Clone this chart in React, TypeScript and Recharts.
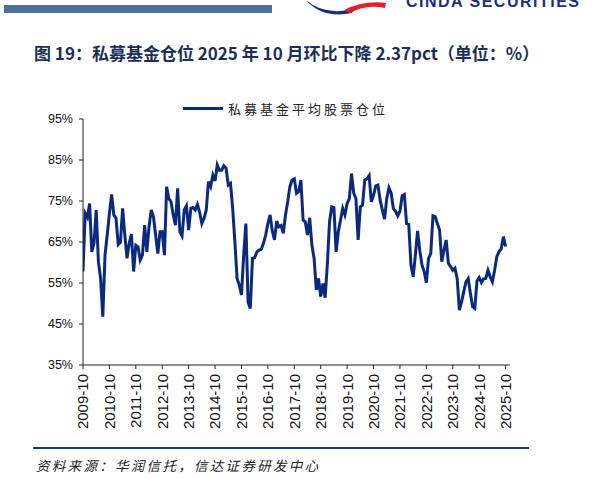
import { LineChart, Line, XAxis, YAxis } from "recharts";

// 私募基金平均股票仓位（%），2009-10 起按月
const positionValues = [
  57.8, 72.0, 71.0, 74.4, 62.6, 64.7, 72.8, 60.2, 56.1, 46.8, 61.8, 66.7,
  72.0, 76.6, 71.6, 70.8, 64.4, 64.9, 73.2, 66.7, 61.0, 64.7, 66.9, 57.8,
  64.2, 63.8, 60.6, 61.8, 69.1, 62.6, 68.7, 72.8, 71.2, 66.7, 62.2, 67.5,
  67.5, 61.8, 78.5, 75.6, 74.8, 71.6, 69.1, 78.1, 67.5, 66.5, 72.8, 73.8,
  67.9, 73.2, 73.4, 72.8, 74.2, 72.2, 69.5, 70.8, 72.8, 79.7, 78.5, 81.3,
  79.9, 83.8, 82.5, 82.5, 83.6, 83.0, 78.9, 79.3, 73.2, 65.1, 56.1, 54.5,
  52.1, 61.8, 69.5, 50.4, 48.8, 61.0, 61.2, 62.6, 63.0, 63.2, 64.7, 66.7,
  69.5, 71.6, 67.7, 65.5, 70.1, 68.7, 69.0, 67.1, 71.6, 74.8, 78.5, 80.1,
  80.4, 76.9, 77.3, 80.1, 70.3, 69.9, 66.7, 70.9, 64.2, 61.0, 53.3, 56.1,
  51.7, 54.9, 51.4, 59.4, 69.9, 73.6, 73.4, 62.6, 67.5, 70.3, 73.2, 71.6,
  74.4, 75.6, 81.7, 76.9, 75.6, 65.5, 73.6, 74.0, 80.1, 80.4, 81.2, 74.8,
  76.4, 78.7, 78.9, 75.2, 72.8, 70.6, 75.6, 78.2, 76.9, 73.2, 72.5, 71.4,
  72.5, 76.3, 76.6, 69.5, 69.3, 59.4, 56.5, 61.8, 67.7, 63.0, 59.4, 57.8,
  55.1, 61.0, 62.2, 71.4, 71.2, 69.5, 67.9, 60.2, 63.0, 65.5, 59.8, 59.0,
  58.1, 58.6, 56.1, 48.4, 50.4, 52.9, 55.3, 56.1, 52.5, 49.2, 48.8, 55.5,
  56.3, 55.1, 56.0, 56.1, 58.1, 56.5, 55.3, 58.1, 61.4, 62.6, 63.3, 66.3,
  63.9,
];

const tickLabels = [
  "2009-10", "2010-10", "2011-10", "2012-10", "2013-10", "2014-10",
  "2015-10", "2016-10", "2017-10", "2018-10", "2019-10", "2020-10",
  "2021-10", "2022-10", "2023-10", "2024-10", "2025-10",
];

const yTicks = [35, 45, 55, 65, 75, 85, 95];

const data = positionValues.map((value, idx) => ({ idx, value }));
const xTicks = tickLabels.map((_, i) => i * 12);

const NAVY = "#0b2a7d";

const XTick = ({ x, y, payload }: any) => {
  const label = tickLabels[Math.round(payload.value / 12)];
  return (
    <text
      x={x}
      y={y}
      transform={`rotate(-90, ${x}, ${y})`}
      textAnchor="end"
      dy="0.36em"
      fontSize={15}
      fill="#111"
      fontFamily="Liberation Sans, Arial, sans-serif"
    >
      {label}
    </text>
  );
};

const App = () => {
  return (
    <div
      style={{
        position: "absolute",
        left: 0,
        top: 0,
        width: 598,
        height: 478,
        background: "#fff",
        overflow: "hidden",
        fontFamily: "Liberation Sans, Arial, sans-serif",
      }}
    >
      {/* 顶部色条和标志 */}
      <div style={{ position: "absolute", left: 4, top: 5, width: 268, height: 8, background: "#4d6f99" }} />
      <svg style={{ position: "absolute", left: 300, top: 0 }} width={298} height={16}>
        <path d="M6 0 Q24 16 54 9 L52 13 Q22 19 6 0 Z" fill="#1b2f80" />
        <path d="M44 10 Q64 0 86 3 L85 8 Q66 4 50 13 Z" fill="#e0202e" />
        <text x={106} y={7} fontSize={16} fontWeight="bold" fill="#1b2f80" letterSpacing={1.5}>
          CINDA SECURITIES
        </text>
      </svg>

      <div
        style={{
          position: "absolute",
          left: 34,
          top: 40,
          fontSize: 17,
          fontWeight: "bold",
          color: "#1b2f58",
          fontFamily: "Noto Sans CJK SC, sans-serif",
          whiteSpace: "nowrap",
        }}
      >
        图 19：私募基金仓位 2025 年 10 月环比下降 2.37pct（单位：%）
      </div>

      {/* 图例 */}
      <div style={{ position: "absolute", left: 183, top: 99, display: "flex", alignItems: "center" }}>
        <div style={{ width: 40, height: 3, background: NAVY }} />
        <span
          style={{
            marginLeft: 5,
            fontSize: 13,
            letterSpacing: 3,
            color: "#222",
            fontFamily: "Noto Sans CJK SC, sans-serif",
          }}
        >
          私募基金平均股票仓位
        </span>
      </div>

      <div style={{ position: "absolute", left: 0, top: 0 }}>
        <LineChart
          width={598}
          height={478}
          data={data}
          margin={{ top: 119, right: 88, bottom: 0, left: 0 }}
        >
          <XAxis
            type="number"
            dataKey="idx"
            domain={[0, 194]}
            ticks={xTicks}
            allowDataOverflow
            interval={0}
            tick={<XTick />}
            tickSize={4}
            tickMargin={5}
            height={113}
            stroke="#222"
          />
          <YAxis
            type="number"
            domain={[35, 95]}
            ticks={yTicks}
            interval={0}
            tickFormatter={(v: number) => `${v}%`}
            tick={{ fontSize: 12.5, fill: "#111" }}
            tickSize={4}
            tickMargin={6}
            width={83}
            stroke="#222"
          />
          <Line
            type="linear"
            dataKey="value"
            stroke={NAVY}
            strokeWidth={3}
            dot={false}
            isAnimationActive={false}
            name="私募基金平均股票仓位"
          />
        </LineChart>
      </div>

      {/* 底部来源 */}
      <div style={{ position: "absolute", left: 33, top: 446.5, width: 496, height: 2, background: "#1f3a6e" }} />
      <div
        style={{
          position: "absolute",
          left: 36,
          top: 455,
          fontSize: 13.5,
          fontStyle: "italic",
          letterSpacing: 2.3,
          color: "#222",
          fontFamily: "Noto Sans CJK SC, sans-serif",
          whiteSpace: "nowrap",
        }}
      >
        资料来源：华润信托，信达证券研发中心
      </div>
    </div>
  );
};

export default App;
